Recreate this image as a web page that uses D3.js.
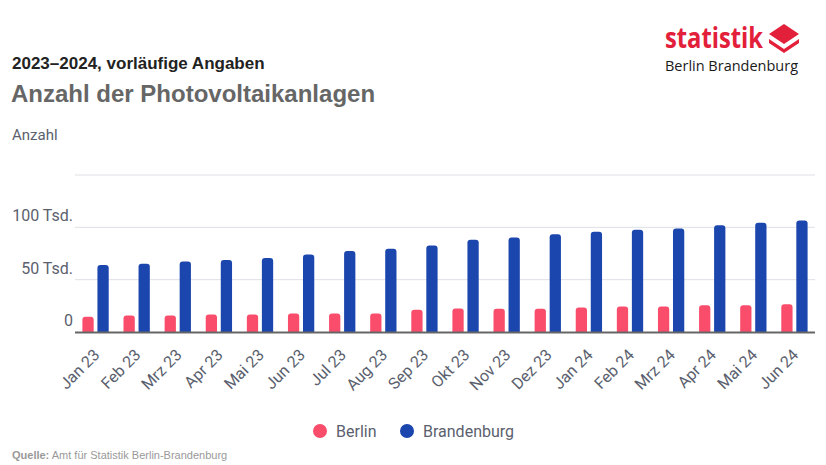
<!DOCTYPE html>
<html><head><meta charset="utf-8">
<script src="https://cdn.jsdelivr.net/npm/d3@7"></script>
<style>body{margin:0;background:#fff;font-family:Roboto,"Liberation Sans",Arial,sans-serif}</style>
</head><body>
<svg id="c" width="826" height="465"></svg>
<script>
const months = ["Jan 23","Feb 23","Mrz 23","Apr 23","Mai 23","Jun 23","Jul 23","Aug 23","Sep 23","Okt 23","Nov 23","Dez 23","Jan 24","Feb 24","Mrz 24","Apr 24","Mai 24","Jun 24"];
const berlin = [14500,15800,15800,16700,16700,17700,17700,17700,21200,22500,22200,22200,23400,24400,24400,25600,25600,26600];
const brandenburg = [63900,65200,67400,68700,70600,74100,77300,79500,82700,88100,90300,93500,95800,97700,98900,102100,104400,106600];
const seriesNames = ["Berlin","Brandenburg"];
const seriesColors = ["#fa4d6b","#1b46ad"];
const yTicks = [0,50000,100000,150000];
const yTickLabels = ["0","50 Tsd.","100 Tsd.",""];

const svg = d3.select("#c");
const L = 75, R = 815, T = 175, B = 332;
const x = d3.scaleBand().domain(months).range([L,R]).paddingInner(0.36).paddingOuter(0.18);
const xs = d3.scaleBand().domain(seriesNames).range([0,x.bandwidth()]).paddingInner(0.25);
const y = d3.scaleLinear().domain([0,150000]).range([B,T]);

// header
svg.append("text").attr("x",12).attr("y",69).attr("font-size",17).attr("font-weight","bold").attr("fill","#222")
  .attr("font-family","Arial, 'Liberation Sans', sans-serif").text("2023–2024, vorläufige Angaben");
svg.append("text").attr("x",11).attr("y",102).attr("font-size",24).attr("font-weight","bold").attr("fill","#666")
  .attr("font-family","Arial, 'Liberation Sans', sans-serif").text("Anzahl der Photovoltaikanlagen");
svg.append("text").attr("x",12).attr("y",140).attr("font-size",15).attr("fill","#5b5f6e").text("Anzahl");

// logo
const lg = svg.append("g");
lg.append("text").attr("x",665).attr("y",48).attr("font-size",28).attr("font-weight","bold").attr("fill","#e3203a")
  .attr("font-family","'Open Sans','Noto Sans',sans-serif").attr("textLength",98).attr("lengthAdjust","spacingAndGlyphs").text("statistik");
lg.append("path").attr("d","M784,24 L799,34 L784,44 L769,34 Z").attr("fill","#e3203a");
lg.append("path").attr("d","M769,39 L784,49 L799,39 L799,43 L784,53 L769,43 Z").attr("fill","#e3203a");
lg.append("text").attr("x",665).attr("y",71).attr("font-size",15).attr("fill","#1a1a1a")
  .attr("font-family","'Open Sans','Noto Sans',sans-serif").attr("textLength",133).attr("lengthAdjust","spacingAndGlyphs").text("Berlin Brandenburg");

// grid
svg.append("g").selectAll("line").data(yTicks.slice(1)).join("line")
  .attr("x1",L).attr("x2",R).attr("y1",d=>y(d)).attr("y2",d=>y(d))
  .attr("stroke","#dfe0e6").attr("stroke-width",1);
svg.append("g").selectAll("text").data(yTicks).join("text")
  .attr("x",73).attr("y",(d)=>y(d)-6).attr("text-anchor","end").attr("font-size",16).attr("fill","#5b5f6e")
  .text((d,i)=>yTickLabels[i]);

// bars
function barPath(x0,w,y0,y1,r){
  r=Math.min(r,w/2,(y1-y0));
  return `M${x0},${y1}V${y0+r}Q${x0},${y0} ${x0+r},${y0}H${x0+w-r}Q${x0+w},${y0} ${x0+w},${y0+r}V${y1}Z`;
}
const data = months.map((m,i)=>({m, vals:[berlin[i],brandenburg[i]]}));
const g = svg.append("g").selectAll("g").data(data).join("g").attr("transform",d=>`translate(${x(d.m)},0)`);
g.selectAll("path").data(d=>d.vals.map((v,j)=>({v,j}))).join("path")
  .attr("d",d=>barPath(xs(seriesNames[d.j]),xs.bandwidth(),y(d.v),B,3))
  .attr("fill",d=>seriesColors[d.j]);

// baseline
svg.append("line").attr("x1",L).attr("x2",R).attr("y1",B+0.5).attr("y2",B+0.5).attr("stroke","#666").attr("stroke-width",2);

// x labels
svg.append("g").selectAll("text").data(months).join("text")
  .attr("transform",d=>`translate(${x(d)+x.bandwidth()/2+5},${B+24}) rotate(-45)`)
  .attr("text-anchor","end").attr("font-size",16).attr("fill","#5b5f6e").text(d=>d);

// legend
const leg = svg.append("g");
const legX = [320,407];
seriesNames.forEach((n,i)=>{
  leg.append("circle").attr("cx",legX[i]).attr("cy",431).attr("r",7).attr("fill",seriesColors[i]);
  leg.append("text").attr("x",legX[i]+16).attr("y",437).attr("font-size",16).attr("fill","#5b5f6e").text(n);
});

// source
const src = svg.append("text").attr("x",12).attr("y",459).attr("font-size",11).attr("fill","#999")
  .attr("font-family","Arial, 'Liberation Sans', sans-serif");
src.append("tspan").attr("font-weight","bold").text("Quelle:");
src.append("tspan").text(" Amt für Statistik Berlin-Brandenburg");
</script>
</body></html>
